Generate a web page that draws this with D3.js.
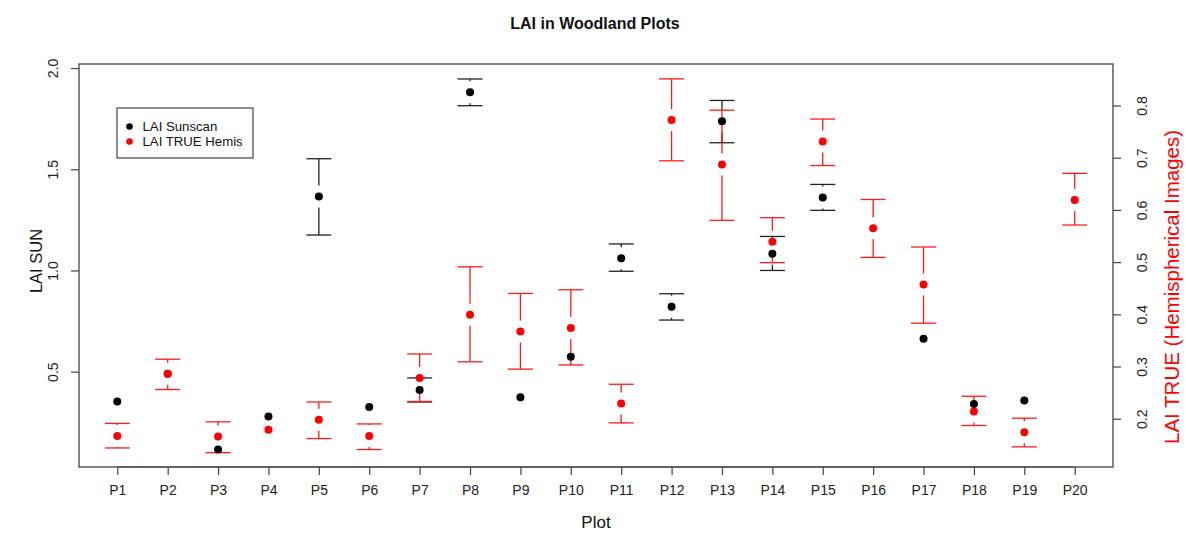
<!DOCTYPE html>
<html>
<head>
<meta charset="utf-8">
<script src="https://cdn.jsdelivr.net/npm/d3@7"></script>
<style>
body { margin:0; background:#fff; }
text { font-family: "Liberation Sans", Arial, sans-serif; }
</style>
</head>
<body>
<script>
// plot names
var plots = ["P1","P2","P3","P4","P5","P6","P7","P8","P9","P10",
             "P11","P12","P13","P14","P15","P16","P17","P18","P19","P20"];

// LAI Sunscan (left axis): mean, lower, upper  (null = not measured)
var sunMean  = [0.353,0.49,0.115,0.279,1.366,0.326,0.41,1.880,0.373,0.574,1.060,0.821,1.737,1.083,1.361,null,0.662,0.340,0.357,null];
var sunLower = [0.333,0.47,0.100,0.262,1.175,0.310,0.350,1.814,0.356,0.558,0.996,0.755,1.631,1.000,1.297,null,0.645,0.325,0.340,null];
var sunUpper = [0.373,0.51,0.130,0.296,1.552,0.342,0.469,1.946,0.390,0.590,1.131,0.885,1.840,1.168,1.425,null,0.679,0.355,0.374,null];

// LAI TRUE from hemispherical images (right axis)
var hemMean  = [0.167,0.286,0.166,0.179,0.198,0.167,0.278,0.399,0.367,0.374,0.229,0.772,0.687,0.539,0.731,0.565,0.457,0.214,0.174,0.619];
var hemLower = [0.144,0.256,0.135,0.170,0.162,0.141,0.233,0.309,0.295,0.303,0.192,0.694,0.580,0.499,0.685,0.509,0.383,0.187,0.146,0.571];
var hemUpper = [0.191,0.314,0.194,0.188,0.232,0.190,0.324,0.491,0.440,0.447,0.266,0.851,0.791,0.585,0.774,0.620,0.529,0.243,0.201,0.670];

var leftTicks  = [0.5, 1.0, 1.5, 2.0];
var rightTicks = [0.2, 0.3, 0.4, 0.5, 0.6, 0.7, 0.8];

var W = 1186, H = 533;
var box = { left:79, right:1113, top:64, bottom:467 };

var svg = d3.select("body").append("svg")
    .attr("width", W)
    .attr("height", H);

var x = d3.scaleLinear().domain([0.24, 20.76]).range([box.left, box.right]);
var yL = d3.scaleLinear().domain([0.029, 2.02]).range([box.bottom, box.top]);
var yR = d3.scaleLinear().domain([0.1075, 0.8795]).range([box.bottom, box.top]);

var axisCol = "#444";

// axes
svg.append("g")
    .attr("transform", "translate(0," + box.bottom + ")")
    .call(d3.axisBottom(x).tickValues(d3.range(1, 21)).tickSize(8).tickPadding(10)
        .tickFormat(function(d){ return plots[d-1]; }));

var gL = svg.append("g")
    .attr("transform", "translate(" + box.left + ",0)")
    .call(d3.axisLeft(yL).tickValues(leftTicks).tickSize(8).tickFormat(d3.format(".1f")));

var gR = svg.append("g")
    .attr("transform", "translate(" + box.right + ",0)")
    .call(d3.axisRight(yR).tickValues(rightTicks).tickSize(8).tickFormat(d3.format(".1f")));

svg.selectAll(".domain").remove();
svg.selectAll(".tick line").attr("stroke", axisCol).attr("stroke-width", 1.2);
svg.selectAll(".tick text").attr("fill", "#222").attr("font-size", 14)
    .attr("font-family", "Liberation Sans, Arial, sans-serif");

// R style: y tick labels parallel to axis
gL.selectAll(".tick text")
    .attr("x", null).attr("dy", null).attr("text-anchor", "middle")
    .attr("transform", "translate(-21,0) rotate(-90)");
gR.selectAll(".tick text")
    .attr("x", null).attr("dy", null).attr("text-anchor", "middle")
    .attr("transform", "translate(34,0) rotate(-90)");

// axis line between first and last tick
svg.append("line").attr("x1", x(1)).attr("x2", x(20)).attr("y1", box.bottom).attr("y2", box.bottom)
    .attr("stroke", axisCol).attr("stroke-width", 1.2);

// plot box
svg.append("rect")
    .attr("x", box.left).attr("y", box.top)
    .attr("width", box.right - box.left).attr("height", box.bottom - box.top)
    .attr("fill", "none").attr("stroke", axisCol).attr("stroke-width", 1.3);

// error bars with a gap round the point, like plotCI
var gap = 11, cap = 12.5;
function drawCI(mean, lower, upper, y, col) {
    var g = svg.append("g").attr("stroke", col).attr("stroke-width", 1.3).attr("fill", "none");
    mean.forEach(function(m, i){
        if (m === null) return;
        var cx = x(i + 1), cy = y(m);
        var top = y(upper[i]), bot = y(lower[i]);
        if (cy - top > gap) {
            g.append("path").attr("d", "M" + cx + "," + (cy - gap) + "V" + top);
            g.append("path").attr("d", "M" + (cx - cap) + "," + top + "H" + (cx + cap));
        }
        if (bot - cy > gap) {
            g.append("path").attr("d", "M" + cx + "," + (cy + gap) + "V" + bot);
            g.append("path").attr("d", "M" + (cx - cap) + "," + bot + "H" + (cx + cap));
        }
    });
}

drawCI(sunMean, sunLower, sunUpper, yL, "#222");
drawCI(hemMean, hemLower, hemUpper, yR, "#ff1a1a");

svg.append("g").selectAll("circle")
    .data(sunMean.map(function(v, i){ return { i:i, v:v }; }).filter(function(d){ return d.v !== null; }))
    .enter().append("circle")
    .attr("cx", function(d){ return x(d.i + 1); })
    .attr("cy", function(d){ return yL(d.v); })
    .attr("r", 4)
    .attr("fill", "#000");

svg.append("g").selectAll("circle")
    .data(hemMean.map(function(v, i){ return { i:i, v:v }; }))
    .enter().append("circle")
    .attr("cx", function(d){ return x(d.i + 1); })
    .attr("cy", function(d){ return yR(d.v); })
    .attr("r", 4)
    .attr("fill", "#ff0000");

// titles
svg.append("text").attr("x", 595).attr("y", 29).attr("text-anchor", "middle")
    .attr("font-size", 16).attr("font-weight", "bold").attr("fill", "#111")
    .text("LAI in Woodland Plots");

svg.append("text").attr("x", 596).attr("y", 528).attr("text-anchor", "middle")
    .attr("font-size", 17).attr("fill", "#111").text("Plot");

svg.append("text").attr("transform", "translate(42,261) rotate(-90)").attr("text-anchor", "middle")
    .attr("font-size", 16.5).attr("fill", "#111").text("LAI SUN");

svg.append("text").attr("transform", "translate(1179,287) rotate(-90)").attr("text-anchor", "middle")
    .attr("font-size", 20.5).attr("fill", "#ff0000").text("LAI TRUE (Hemispherical Images)");

// legend
var leg = svg.append("g");
leg.append("rect").attr("x", 117).attr("y", 108).attr("width", 136).attr("height", 50)
    .attr("fill", "#fff").attr("stroke", axisCol).attr("stroke-width", 1.2);
[["LAI Sunscan", "#000"], ["LAI TRUE Hemis", "#ff0000"]].forEach(function(e, i){
    leg.append("circle").attr("cx", 129.5).attr("cy", 126.5 + i * 15).attr("r", 3.3).attr("fill", e[1]);
    leg.append("text").attr("x", 142.5).attr("y", 131.3 + i * 15).attr("font-size", 13.2)
        .attr("fill", "#111").text(e[0]);
});
</script>
</body>
</html>
